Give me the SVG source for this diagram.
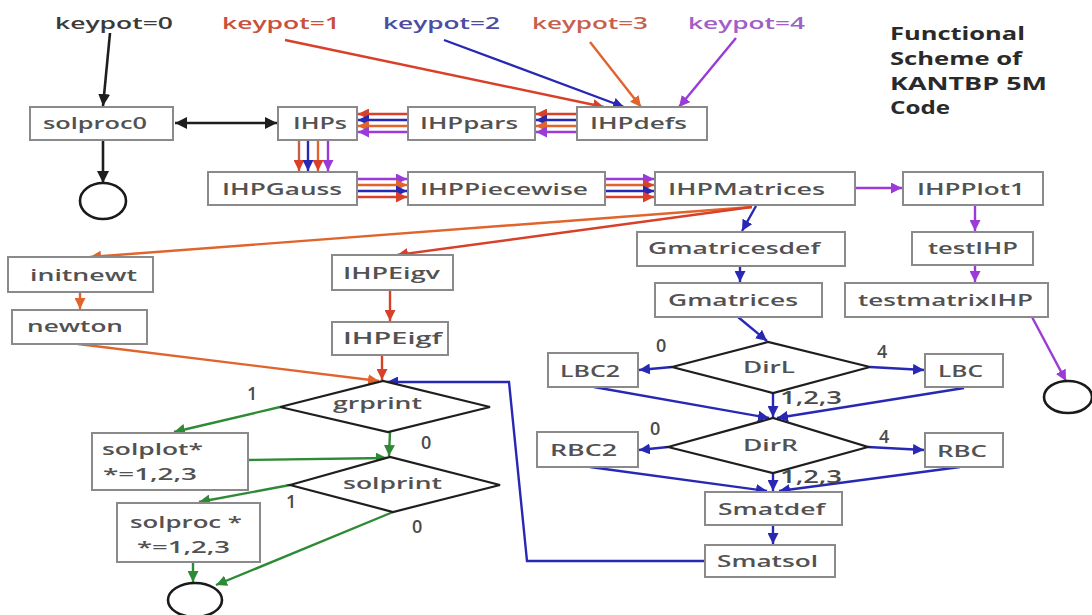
<svg xmlns="http://www.w3.org/2000/svg" width="1092" height="615" viewBox="0 0 1092 615">
<style>
.box{fill:#fff;stroke:#8a8a8a;stroke-width:2}
.dia{fill:#fff;stroke:#1e1e1e;stroke-width:2.2}
.circ{fill:none;stroke:#1a1a1a;stroke-width:2.6}
.t{font-family:"Open Sans","Liberation Sans",sans-serif;font-size:17px;fill:#525252;font-weight:600}
.lbl{font-family:"Open Sans","Liberation Sans",sans-serif;font-size:18px;fill:#4a4a4a;font-weight:600}
.title{font-family:"Open Sans","Liberation Sans",sans-serif;font-size:17px;fill:#2a2a2a;font-weight:700}
.k{fill:none;stroke:#1e1e1e;stroke-width:2.6}
.r{fill:none;stroke:#d8402a;stroke-width:2.4}
.b{fill:none;stroke:#2828b4;stroke-width:2.4}
.o{fill:none;stroke:#e0642c;stroke-width:2.4}
.p{fill:none;stroke:#9a3ad8;stroke-width:2.4}
.g{fill:none;stroke:#2e8a35;stroke-width:2.4}
</style>
<defs>
<marker id="ak" viewBox="0 0 10 10" refX="10" refY="5" markerWidth="12" markerHeight="12" markerUnits="userSpaceOnUse" orient="auto-start-reverse"><path d="M0,0L10,5L0,10z" fill="#1e1e1e"/></marker>
<marker id="ar" viewBox="0 0 10 10" refX="10" refY="5" markerWidth="11" markerHeight="11" markerUnits="userSpaceOnUse" orient="auto"><path d="M0,0L10,5L0,10z" fill="#d8402a"/></marker>
<marker id="ab" viewBox="0 0 10 10" refX="10" refY="5" markerWidth="11" markerHeight="11" markerUnits="userSpaceOnUse" orient="auto"><path d="M0,0L10,5L0,10z" fill="#2828b4"/></marker>
<marker id="ao" viewBox="0 0 10 10" refX="10" refY="5" markerWidth="11" markerHeight="11" markerUnits="userSpaceOnUse" orient="auto"><path d="M0,0L10,5L0,10z" fill="#e0642c"/></marker>
<marker id="ap" viewBox="0 0 10 10" refX="10" refY="5" markerWidth="11" markerHeight="11" markerUnits="userSpaceOnUse" orient="auto"><path d="M0,0L10,5L0,10z" fill="#9a3ad8"/></marker>
<marker id="ag" viewBox="0 0 10 10" refX="10" refY="5" markerWidth="11" markerHeight="11" markerUnits="userSpaceOnUse" orient="auto"><path d="M0,0L10,5L0,10z" fill="#2e8a35"/></marker>
</defs>
<rect width="1092" height="615" fill="#fff"/>

<g id="title">
<text class="title" x="890" y="40" textLength="135" lengthAdjust="spacingAndGlyphs">Functional</text>
<text class="title" x="890" y="65" textLength="132" lengthAdjust="spacingAndGlyphs">Scheme of</text>
<text class="title" x="890" y="90" textLength="157" lengthAdjust="spacingAndGlyphs">KANTBP 5M</text>
<text class="title" x="890" y="114" textLength="60" lengthAdjust="spacingAndGlyphs">Code</text>
</g>

<g id="keypots">
<text class="t" x="55" y="29" textLength="118" lengthAdjust="spacingAndGlyphs" style="fill:#3a3a3a">keypot=0</text>
<text class="t" x="222" y="29" textLength="118" lengthAdjust="spacingAndGlyphs" style="fill:#c8503c">keypot=1</text>
<text class="t" x="383" y="29" textLength="117" lengthAdjust="spacingAndGlyphs" style="fill:#4c4ca0">keypot=2</text>
<text class="t" x="532" y="29" textLength="116" lengthAdjust="spacingAndGlyphs" style="fill:#c86050">keypot=3</text>
<text class="t" x="688" y="29" textLength="117" lengthAdjust="spacingAndGlyphs" style="fill:#a060c8">keypot=4</text>
</g>

<g id="connectors">
<line class="k" x1="110" y1="33" x2="103" y2="106" marker-end="url(#ak)"/>
<line class="k" x1="103" y1="140" x2="103" y2="183" marker-end="url(#ak)"/>
<line class="k" x1="175" y1="123" x2="277" y2="123" marker-start="url(#ak)" marker-end="url(#ak)"/>
<line class="r" x1="285" y1="40" x2="604" y2="107" marker-end="url(#ar)"/>
<line class="b" x1="444" y1="40" x2="624" y2="107" marker-end="url(#ab)"/>
<line class="o" x1="590" y1="42" x2="641" y2="107" marker-end="url(#ao)"/>
<line class="p" x1="736" y1="38" x2="679" y2="107" marker-end="url(#ap)"/>
<line class="r" x1="577" y1="114" x2="536" y2="114" marker-end="url(#ar)"/>
<line class="b" x1="577" y1="120" x2="536" y2="120" marker-end="url(#ab)"/>
<line class="o" x1="577" y1="126" x2="536" y2="126" marker-end="url(#ao)"/>
<line class="p" x1="577" y1="132" x2="536" y2="132" marker-end="url(#ap)"/>
<line class="r" x1="408" y1="114" x2="358" y2="114" marker-end="url(#ar)"/>
<line class="b" x1="408" y1="120" x2="358" y2="120" marker-end="url(#ab)"/>
<line class="o" x1="408" y1="126" x2="358" y2="126" marker-end="url(#ao)"/>
<line class="p" x1="408" y1="132" x2="358" y2="132" marker-end="url(#ap)"/>
<line class="r" x1="299" y1="140" x2="299" y2="171" marker-end="url(#ar)" style="stroke:#c4604a"/>
<line class="b" x1="308" y1="140" x2="308" y2="171" marker-end="url(#ab)"/>
<line class="o" x1="318" y1="140" x2="318" y2="171" marker-end="url(#ar)"/>
<line class="p" x1="328" y1="140" x2="328" y2="171" marker-end="url(#ap)"/>
<line class="p" x1="358" y1="179" x2="407" y2="179" marker-end="url(#ap)"/>
<line class="o" x1="358" y1="185" x2="407" y2="185" marker-end="url(#ao)"/>
<line class="b" x1="358" y1="191" x2="407" y2="191" marker-end="url(#ab)"/>
<line class="r" x1="358" y1="197" x2="407" y2="197" marker-end="url(#ar)"/>
<line class="p" x1="606" y1="179" x2="654" y2="179" marker-end="url(#ap)"/>
<line class="o" x1="606" y1="185" x2="654" y2="185" marker-end="url(#ar)"/>
<line class="b" x1="606" y1="191" x2="654" y2="191" marker-end="url(#ab)"/>
<line class="r" x1="606" y1="197" x2="654" y2="197" marker-end="url(#ar)"/>
<line class="p" x1="856" y1="188" x2="902" y2="188" marker-end="url(#ap)"/>
<line class="p" x1="975" y1="205" x2="975" y2="231" marker-end="url(#ap)"/>
<line class="p" x1="975" y1="265" x2="975" y2="282" marker-end="url(#ap)"/>
<line class="p" x1="1032" y1="317" x2="1066" y2="381" marker-end="url(#ap)"/>
<line class="o" x1="752" y1="207" x2="90" y2="257" marker-end="url(#ao)"/>
<line class="r" x1="752" y1="207" x2="397" y2="255" marker-end="url(#ar)"/>
<line class="o" x1="80" y1="292" x2="80" y2="309" marker-end="url(#ao)"/>
<line class="r" x1="390" y1="290" x2="390" y2="321" marker-end="url(#ar)"/>
<line class="r" x1="382" y1="355" x2="382" y2="380" marker-end="url(#ar)"/>
<line class="o" x1="78" y1="344" x2="379" y2="381" marker-end="url(#ao)"/>
<line class="b" x1="756" y1="206" x2="742" y2="231" marker-end="url(#ab)"/>
<line class="b" x1="740" y1="266" x2="740" y2="282" marker-end="url(#ab)"/>
<line class="b" x1="738" y1="317" x2="767" y2="341" marker-end="url(#ab)"/>
<line class="b" x1="672" y1="367" x2="639" y2="370" marker-end="url(#ab)"/>
<line class="b" x1="870" y1="367" x2="924" y2="370" marker-end="url(#ab)"/>
<line class="b" x1="773" y1="393" x2="773" y2="417" marker-end="url(#ab)"/>
<line class="b" x1="594" y1="387" x2="769" y2="418" marker-end="url(#ab)"/>
<line class="b" x1="964" y1="388" x2="777" y2="418" marker-end="url(#ab)"/>
<line class="b" x1="668" y1="447" x2="639" y2="450" marker-end="url(#ab)"/>
<line class="b" x1="868" y1="447" x2="924" y2="450" marker-end="url(#ab)"/>
<line class="b" x1="773" y1="473" x2="773" y2="491" marker-end="url(#ab)"/>
<line class="b" x1="590" y1="467" x2="767" y2="491" marker-end="url(#ab)"/>
<line class="b" x1="960" y1="467" x2="779" y2="491" marker-end="url(#ab)"/>
<line class="b" x1="773" y1="525" x2="773" y2="544" marker-end="url(#ab)"/>
<polyline class="b" points="705,561 527,561 509,382 387,382" marker-end="url(#ab)"/>
<line class="g" x1="280" y1="407" x2="174" y2="432" marker-end="url(#ag)"/>
<line class="g" x1="390" y1="432" x2="389" y2="456" marker-end="url(#ag)"/>
<line class="g" x1="248" y1="460" x2="387" y2="458" marker-end="url(#ag)"/>
<line class="g" x1="290" y1="485" x2="199" y2="502" marker-end="url(#ag)"/>
<line class="g" x1="393" y1="512" x2="216" y2="585" marker-end="url(#ag)"/>
<line class="g" x1="193" y1="562" x2="193" y2="582" marker-end="url(#ag)"/>
</g>

<g id="solproc0"><rect class="box" x="30" y="107" width="143" height="33"/><text class="t" x="43" y="129" textLength="104" lengthAdjust="spacingAndGlyphs">solproc0</text></g>
<g id="IHPs"><rect class="box" x="278" y="107" width="79" height="33"/><text class="t" x="293" y="129" textLength="54" lengthAdjust="spacingAndGlyphs">IHPs</text></g>
<g id="IHPpars"><rect class="box" x="408" y="107" width="127" height="33"/><text class="t" x="420" y="129" textLength="98" lengthAdjust="spacingAndGlyphs">IHPpars</text></g>
<g id="IHPdefs"><rect class="box" x="577" y="107" width="130" height="33"/><text class="t" x="590" y="129" textLength="97" lengthAdjust="spacingAndGlyphs">IHPdefs</text></g>
<g id="IHPGauss"><rect class="box" x="208" y="172" width="149" height="33"/><text class="t" x="222" y="195" textLength="120" lengthAdjust="spacingAndGlyphs">IHPGauss</text></g>
<g id="IHPPiecewise"><rect class="box" x="408" y="172" width="197" height="33"/><text class="t" x="420" y="195" textLength="168" lengthAdjust="spacingAndGlyphs">IHPPiecewise</text></g>
<g id="IHPMatrices"><rect class="box" x="655" y="172" width="200" height="33"/><text class="t" x="668" y="195" textLength="157" lengthAdjust="spacingAndGlyphs">IHPMatrices</text></g>
<g id="IHPPlot1"><rect class="box" x="903" y="172" width="140" height="33"/><text class="t" x="917" y="195" textLength="108" lengthAdjust="spacingAndGlyphs">IHPPlot1</text></g>
<g id="Gmatricesdef"><rect class="box" x="637" y="232" width="208" height="34"/><text class="t" x="648" y="254" textLength="172" lengthAdjust="spacingAndGlyphs">Gmatricesdef</text></g>
<g id="Gmatrices"><rect class="box" x="655" y="283" width="167" height="34"/><text class="t" x="668" y="306" textLength="130" lengthAdjust="spacingAndGlyphs">Gmatrices</text></g>
<g id="testIHP"><rect class="box" x="912" y="232" width="121" height="33"/><text class="t" x="928" y="254" textLength="90" lengthAdjust="spacingAndGlyphs">testIHP</text></g>
<g id="testmatrixIHP"><rect class="box" x="845" y="283" width="203" height="34"/><text class="t" x="858" y="306" textLength="175" lengthAdjust="spacingAndGlyphs">testmatrixIHP</text></g>
<g id="initnewt"><rect class="box" x="8" y="257" width="145" height="35"/><text class="t" x="30" y="281" textLength="107" lengthAdjust="spacingAndGlyphs">initnewt</text></g>
<g id="newton"><rect class="box" x="12" y="310" width="135" height="34"/><text class="t" x="27" y="332" textLength="96" lengthAdjust="spacingAndGlyphs">newton</text></g>
<g id="IHPEigv"><rect class="box" x="332" y="255" width="121" height="35"/><text class="t" x="343" y="279" textLength="97" lengthAdjust="spacingAndGlyphs">IHPEigv</text></g>
<g id="IHPEigf"><rect class="box" x="332" y="322" width="116" height="33"/><text class="t" x="343" y="344" textLength="99" lengthAdjust="spacingAndGlyphs">IHPEigf</text></g>
<g id="LBC2"><rect class="box" x="548" y="353" width="90" height="34"/><text class="t" x="560" y="377" textLength="60" lengthAdjust="spacingAndGlyphs">LBC2</text></g>
<g id="LBC"><rect class="box" x="925" y="354" width="78" height="33"/><text class="t" x="938" y="377" textLength="45" lengthAdjust="spacingAndGlyphs">LBC</text></g>
<g id="RBC2"><rect class="box" x="537" y="432" width="101" height="35"/><text class="t" x="550" y="456" textLength="67" lengthAdjust="spacingAndGlyphs">RBC2</text></g>
<g id="RBC"><rect class="box" x="925" y="433" width="78" height="34"/><text class="t" x="937" y="457" textLength="50" lengthAdjust="spacingAndGlyphs">RBC</text></g>
<g id="Smatdef"><rect class="box" x="705" y="492" width="137" height="33"/><text class="t" x="718" y="515" textLength="107" lengthAdjust="spacingAndGlyphs">Smatdef</text></g>
<g id="Smatsol"><rect class="box" x="705" y="545" width="130" height="32"/><text class="t" x="717" y="567" textLength="101" lengthAdjust="spacingAndGlyphs">Smatsol</text></g>
<g id="solplot"><rect class="box" x="92" y="433" width="156" height="57"/><text class="t" x="102" y="455" textLength="101" lengthAdjust="spacingAndGlyphs">solplot*</text><text class="t" x="103" y="480" textLength="94" lengthAdjust="spacingAndGlyphs">*=1,2,3</text></g>
<g id="solproc"><rect class="box" x="117" y="503" width="143" height="59"/><text class="t" x="130" y="528" textLength="112" lengthAdjust="spacingAndGlyphs">solproc *</text><text class="t" x="137" y="553" textLength="93" lengthAdjust="spacingAndGlyphs">*=1,2,3</text></g>

<g id="grprint"><polygon class="dia" points="280,407 383,381 490,407 388,432"/><text class="t" x="333" y="409" textLength="89" lengthAdjust="spacingAndGlyphs">grprint</text></g>
<g id="solprint"><polygon class="dia" points="290,485 390,457 500,485 393,512"/><text class="t" x="343" y="489" textLength="99" lengthAdjust="spacingAndGlyphs">solprint</text></g>
<g id="DirL"><polygon class="dia" points="672,367 768,342 870,367 773,393"/><text class="t" x="743" y="373" textLength="52" lengthAdjust="spacingAndGlyphs">DirL</text></g>
<g id="DirR"><polygon class="dia" points="668,447 773,418 868,447 773,473"/><text class="t" x="743" y="451" textLength="55" lengthAdjust="spacingAndGlyphs">DirR</text></g>

<g id="end0"><ellipse class="circ" cx="103" cy="201" rx="23" ry="18"/></g>
<g id="end1"><ellipse class="circ" cx="195" cy="600" rx="27" ry="17"/></g>
<g id="end2"><ellipse class="circ" cx="1068" cy="397" rx="24" ry="16"/></g>

<g id="labels">
<text class="lbl" x="247" y="400">1</text>
<text class="lbl" x="421" y="449">0</text>
<text class="lbl" x="286" y="508">1</text>
<text class="lbl" x="412" y="533">0</text>
<text class="lbl" x="656" y="352">0</text>
<text class="lbl" x="877" y="358">4</text>
<text class="lbl" x="780" y="404" textLength="62" lengthAdjust="spacingAndGlyphs">1,2,3</text>
<text class="lbl" x="650" y="435">0</text>
<text class="lbl" x="879" y="443">4</text>
<text class="lbl" x="780" y="483" textLength="62" lengthAdjust="spacingAndGlyphs">1,2,3</text>
</g>
</svg>
